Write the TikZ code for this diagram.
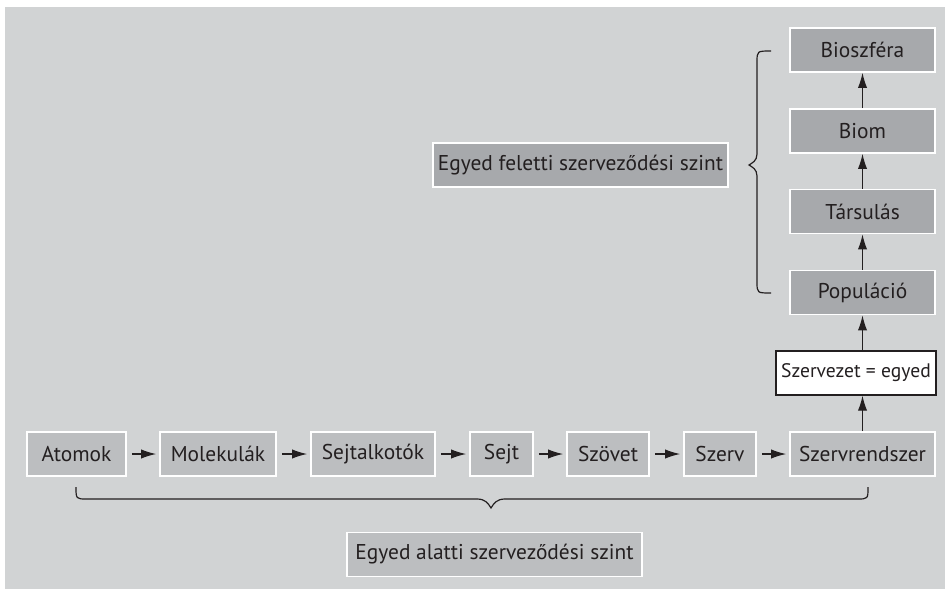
\documentclass[tikz,border=0pt]{standalone}
\usepackage{fontspec}
\setmainfont{PT Sans}
\usetikzlibrary{arrows.meta,positioning}

\begin{document}
\begin{tikzpicture}[x=0.5pt,y=-0.5pt]
        % Define the grey tones
        \definecolor{bggrey}{RGB}{209,211,212}
        \definecolor{lightbox}{RGB}{188,190,192}
        \definecolor{darkbox}{RGB}{167,169,172}
        \definecolor{inkgrey}{RGB}{35,31,32}

        \tikzset{
            lowbox/.style={rectangle, fill=lightbox, draw=white, line width=0.8pt, text=inkgrey, minimum height=22pt, inner sep=0pt, font=\fontsize{10.7}{12}\selectfont},
            highbox/.style={lowbox, fill=darkbox},
            egyedbox/.style={lowbox, fill=white, draw=inkgrey, line width=0.6pt, font=\fontsize{9.8}{12}\selectfont},
            arr/.style={-{Latex[length=7.5pt,width=4.6pt]}, line width=0.6pt, inkgrey},
            brace/.style={line width=0.6pt, inkgrey}
        }

        % Background
        \useasboundingbox (0,0) rectangle (945,589);
        \fill[bggrey] (5,7) rectangle (945,589);

        % Bottom row - below the individual
        \node[lowbox, minimum width=49.5pt] (atom) at (76.5,454) {Atomok};
        \node[lowbox, minimum width=58pt] (mol) at (218,454) {Molekulák};
        \node[lowbox, minimum width=62pt] (sejtalk) at (373,454) {Sejtalkotók};
        \node[lowbox, minimum width=31.5pt] (sejt) at (501.5,454) {Sejt};
        \node[lowbox, minimum width=41pt] (szovet) at (608,454) {Szövet};
        \node[lowbox, minimum width=36pt] (szerv) at (720,454) {Szerv};
        \node[lowbox, minimum width=72.5pt] (szrsz) at (862.5,454) {Szervrendszer};

        % The individual
        \node[egyedbox, minimum width=80pt] (egyed) at (856,373) {Szervezet = egyed};

        % Right column - above the individual
        \node[highbox, minimum width=72.5pt] (popul) at (862.5,292.5) {Populáció};
        \node[highbox, minimum width=72.5pt] (tars) at (862.5,211.5) {Társulás};
        \node[highbox, minimum width=72.5pt] (biom) at (862.5,131) {Biom};
        \node[highbox, minimum width=72.5pt] (biosz) at (862.5,50) {Bioszféra};

        % Level labels
        \node[highbox, minimum width=147.5pt] (felett) at (580.5,165) {Egyed feletti szerveződési szint};
        \node[lowbox, minimum width=147.5pt] (alatt) at (494.5,554.5) {Egyed alatti szerveződési szint};

        % Connecting arrows
        \draw[arr, shorten <=2.5pt, shorten >=1.5pt] (atom) -- (mol);
        \draw[arr, shorten <=2.5pt, shorten >=1.5pt] (mol) -- (sejtalk);
        \draw[arr, shorten <=2.5pt, shorten >=1.5pt] (sejtalk) -- (sejt);
        \draw[arr, shorten <=2.5pt, shorten >=1.5pt] (sejt) -- (szovet);
        \draw[arr, shorten <=2.5pt, shorten >=1.5pt] (szovet) -- (szerv);
        \draw[arr, shorten <=2.5pt, shorten >=1.5pt] (szerv) -- (szrsz);
        \draw[arr] (szrsz.north) -- (szrsz.north |- egyed.south);
        \draw[arr] (popul.south |- egyed.north) -- (popul.south);
        \draw[arr] (popul) -- (tars);
        \draw[arr] (tars) -- (biom);
        \draw[arr] (biom) -- (biosz);

        % Braces
        \draw[brace] (771,51) .. controls (757,51) .. (757,62) -- (757,154)
            .. controls (757,161) and (752,163) .. (749,165)
            .. controls (752,167) and (757,169) .. (757,176) -- (757,282)
            .. controls (757,293) .. (771,293);
        \draw[brace] (76,487) .. controls (76,499) .. (87,499) -- (477,499)
            .. controls (485,499) and (488,503) .. (491,508)
            .. controls (494,503) and (497,499) .. (505,499) -- (857,499)
            .. controls (868,499) .. (868,487);
    \end{tikzpicture}
\end{document}
